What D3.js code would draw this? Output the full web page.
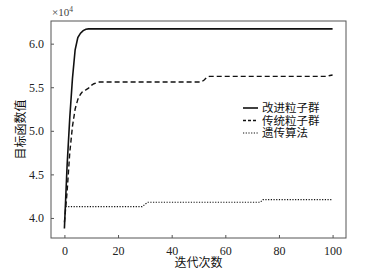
<!DOCTYPE html>
<html>
<head>
<meta charset="utf-8">
<script src="https://cdn.jsdelivr.net/npm/d3@7"></script>
<style>
  body { margin: 0; background: #fff; }
  text { font-family: "Liberation Serif", "Noto Sans CJK SC", serif; }
</style>
</head>
<body>
<div id="chart"></div>
<script>
// iterations / objective values (x 10^4)
var improvedIter = [0, 1, 2, 3, 4, 5, 6, 7, 8, 9, 10, 100],
    improvedVal  = [3.88, 4.6, 5.15, 5.6, 5.93, 6.07, 6.12, 6.15, 6.165, 6.17, 6.17, 6.17];

var classicIter = [0, 1, 2, 3, 4, 5, 6, 7, 8, 9, 10, 11, 12, 13, 51, 52, 53, 54, 98, 99, 100],
    classicVal  = [3.95, 4.3, 4.75, 5.05, 5.25, 5.36, 5.42, 5.46, 5.47, 5.49, 5.52, 5.54, 5.55, 5.56, 5.56, 5.58, 5.61, 5.625, 5.625, 5.635, 5.64];

var gaIter = [0.4, 29, 31, 73, 74, 100],
    gaVal  = [4.13, 4.13, 4.18, 4.18, 4.21, 4.21];

var xTicks = [0, 20, 40, 60, 80, 100],
    yTicks = [4.0, 4.5, 5.0, 5.5, 6.0];

var seriesNames = ["改进粒子群", "传统粒子群", "遗传算法"];

var width = 368, height = 277,
    margin = {top: 21, right: 22, bottom: 39, left: 51};

var svg = d3.select("#chart").append("svg")
    .attr("width", width)
    .attr("height", height);

var x = d3.scaleLinear().domain([-5, 105]).range([margin.left, width - margin.right]),
    y = d3.scaleLinear().domain([3.77, 6.26]).range([height - margin.bottom, margin.top]);

var axisColor = "#555";

// frame
svg.append("rect")
    .attr("x", margin.left)
    .attr("y", margin.top)
    .attr("width", width - margin.left - margin.right)
    .attr("height", height - margin.top - margin.bottom)
    .style("fill", "none")
    .style("stroke", axisColor)
    .style("stroke-width", 1);

// x axis, ticks pointing inward
var gx = svg.append("g")
    .attr("transform", "translate(0," + (height - margin.bottom) + ")")
    .call(d3.axisBottom(x).tickValues(xTicks).tickSizeInner(-3).tickSizeOuter(0).tickPadding(8));
gx.select(".domain").remove();
gx.selectAll("line").style("stroke", axisColor);
gx.selectAll("text").style("font-size", "12px").style("fill", "#222");

var gy = svg.append("g")
    .attr("transform", "translate(" + margin.left + ",0)")
    .call(d3.axisLeft(y).tickValues(yTicks).tickFormat(d3.format(".1f")).tickSizeInner(-3).tickSizeOuter(0).tickPadding(7));
gy.select(".domain").remove();
gy.selectAll("line").style("stroke", axisColor);
gy.selectAll("text").style("font-size", "12px").style("fill", "#222");

// exponent label
var expo = svg.append("text")
    .attr("x", margin.left + 1)
    .attr("y", 16)
    .style("font-size", "11px")
    .style("fill", "#444")
    .text("×10");
expo.append("tspan")
    .attr("dy", -4)
    .style("font-size", "7.5px")
    .text("4");

var line = d3.line()
    .x(function (d) { return x(d[0]); })
    .y(function (d) { return y(d[1]); });

var series = [
    {iter: improvedIter, val: improvedVal, dash: null, width: 1.6},
    {iter: classicIter, val: classicVal, dash: "5,3", width: 1.4},
    {iter: gaIter, val: gaVal, dash: "1.2,1.5", width: 1.2}
];

series.forEach(function (s) {
    var pts = s.iter.map(function (t, i) { return [t, s.val[i]]; });
    svg.append("path")
        .datum(pts)
        .attr("d", line)
        .style("fill", "none")
        .style("stroke", "#111")
        .style("stroke-width", s.width)
        .style("stroke-dasharray", s.dash);
});

// legend
var legend = svg.append("g").attr("transform", "translate(243,108)");
series.forEach(function (s, i) {
    var row = legend.append("g").attr("transform", "translate(0," + (i * 12.5) + ")");
    row.append("line")
        .attr("x1", 0).attr("x2", 15)
        .attr("y1", 0).attr("y2", 0)
        .style("stroke", "#111")
        .style("stroke-width", s.width)
        .style("stroke-dasharray", i === 1 ? "3,2" : s.dash);
    row.append("text")
        .attr("x", 19)
        .attr("y", 4)
        .style("font-size", "11.5px")
        .style("fill", "#111")
        .text(seriesNames[i]);
});

// axis titles
svg.append("text")
    .attr("x", (margin.left + width - margin.right) / 2)
    .attr("y", 267)
    .attr("text-anchor", "middle")
    .style("font-size", "12px")
    .style("fill", "#111")
    .text("迭代次数");

svg.append("text")
    .attr("transform", "translate(25," + ((margin.top + height - margin.bottom) / 2) + ") rotate(-90)")
    .attr("text-anchor", "middle")
    .style("font-size", "12px")
    .style("fill", "#111")
    .text("目标函数值");
</script>
</body>
</html>
